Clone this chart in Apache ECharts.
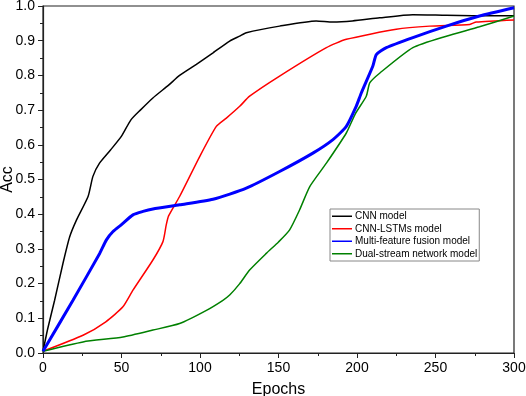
<!DOCTYPE html>
<html>
<head>
<meta charset="utf-8">
<script src="https://cdn.jsdelivr.net/npm/echarts@6/dist/echarts.min.js"></script>
<style>html,body{margin:0;padding:0;background:#fff}#c{width:526px;height:396px}</style>
</head>
<body>
<div id="c"></div>
<script>
const seriesNames = ['CNN model', 'CNN-LSTMs model', 'Multi-feature fusion model', 'Dual-stream network model'];
const xTicks = [0, 50, 100, 150, 200, 250, 300];
const yTicks = [0, 0.1, 0.2, 0.3, 0.4, 0.5, 0.6, 0.7, 0.8, 0.9, 1.0];

const cnnData = [[0,0.005],[3,0.07],[7.4,0.152],[12.7,0.258],[17,0.335],[21.3,0.383],[28.7,0.451],[31.8,0.509],[36,0.547],[43,0.585],[50,0.625],[56,0.672],[62,0.70],[70,0.735],[80,0.772],[87,0.80],[97.7,0.832],[108.3,0.865],[118.9,0.899],[125.2,0.913],[129.5,0.923],[150.7,0.942],[174,0.957],[184.5,0.954],[197,0.957],[214.4,0.966],[235.5,0.975],[256.9,0.973],[273.7,0.972],[300,0.972]];
const lstmData = [[0,0.005],[25.5,0.051],[40,0.09],[50.9,0.133],[57.3,0.181],[70,0.268],[76.4,0.321],[78.5,0.369],[80,0.395],[87,0.451],[99.8,0.566],[110.4,0.653],[116.8,0.677],[125.3,0.711],[131.6,0.74],[150.7,0.798],[180.5,0.88],[193.2,0.904],[225,0.933],[246.3,0.942],[271.8,0.947],[276,0.954],[300,0.96]];
const fusionData = [[0,0.005],[19.1,0.152],[36.1,0.287],[40.4,0.326],[44.6,0.35],[50,0.37],[57.3,0.398],[63.7,0.408],[70,0.415],[87,0.427],[108.3,0.443],[129.5,0.475],[150.7,0.523],[171.9,0.576],[184.7,0.615],[193.2,0.653],[199.5,0.711],[202.8,0.75],[210.1,0.827],[212.3,0.86],[218.7,0.88],[235.6,0.909],[256.9,0.942],[278,0.971],[300,0.995]];
const dualData = [[0,0.005],[25.5,0.032],[50.9,0.046],[70,0.066],[87,0.085],[104.1,0.123],[114.6,0.152],[118.9,0.167],[125.3,0.2],[131.6,0.239],[142.2,0.287],[150,0.32],[157.1,0.355],[163.4,0.412],[170,0.48],[180.5,0.547],[193.2,0.634],[199,0.69],[205.9,0.74],[208.2,0.779],[214.6,0.807],[235.6,0.88],[256.9,0.913],[278,0.94],[300,0.971]];

const colors = ['#000000', '#ff0000', '#0000ff', '#008000'];
const widths = [1.5, 1.5, 3, 1.5];
const allData = [cnnData, lstmData, fusionData, dualData];

const chart = echarts.init(document.getElementById('c'), null, {renderer: 'canvas'});
const font = 'Liberation Sans, Arial, sans-serif';
chart.setOption({
  animation: false,
  backgroundColor: '#fff',
  grid: {left: 43, right: 12, top: 6, bottom: 43, containLabel: false, outerBoundsMode: 'none', show: true, borderColor: '#222', borderWidth: 1.2, backgroundColor: 'transparent'},
  legend: {
    orient: 'vertical', left: 330, top: 209,
    data: seriesNames.map((n, i) => ({name: n, icon: 'rect', itemStyle: {color: colors[i]}})),
    itemWidth: 20, itemHeight: 1.5, itemGap: 0,
    padding: [1, 2, 1, 2],
    borderColor: '#888', borderWidth: 1, backgroundColor: '#fff',
    textStyle: {fontFamily: font, fontSize: 10, color: '#000', padding: [0, 0, 0, -2], lineHeight: 12.5}
  },
  xAxis: {
    type: 'value', min: xTicks[0], max: xTicks[xTicks.length - 1], interval: 50,
    name: 'Epochs', nameLocation: 'middle', nameGap: 29, nameMoveOverlap: false,
    nameTextStyle: {fontFamily: font, fontSize: 16, color: '#000', verticalAlign: 'top'},
    axisLine: {show: true, onZero: false, lineStyle: {color: '#222', width: 1.2}},
    axisTick: {show: true, inside: false, length: 5, lineStyle: {color: '#222'}},
    minorTick: {show: true, splitNumber: 2, length: 3, lineStyle: {color: '#222'}},
    splitLine: {show: false},
    axisLabel: {fontFamily: font, fontSize: 14, color: '#000', margin: 8}
  },
  yAxis: {
    type: 'value', min: yTicks[0], max: yTicks[yTicks.length - 1], interval: 0.1,
    name: 'Acc', nameLocation: 'middle', nameGap: 27, nameRotate: 90, nameMoveOverlap: false,
    nameTextStyle: {fontFamily: font, fontSize: 16, color: '#000'},
    axisLine: {show: true, onZero: false, lineStyle: {color: '#222', width: 1.2}},
    axisTick: {show: true, inside: false, length: 5, lineStyle: {color: '#222'}},
    minorTick: {show: true, splitNumber: 2, length: 3, lineStyle: {color: '#222'}},
    splitLine: {show: false},
    axisLabel: {fontFamily: font, fontSize: 14, color: '#000', margin: 8, formatter: v => v.toFixed(1)}
  },
  series: seriesNames.map((n, i) => ({
    name: n, type: 'line', data: allData[i], showSymbol: false, symbol: 'none',
    smooth: 0.2,
    lineStyle: {color: colors[i], width: widths[i]},
    itemStyle: {color: colors[i]},
    z: i === 2 ? 3 : 2
  }))
});
</script>
</body>
</html>
